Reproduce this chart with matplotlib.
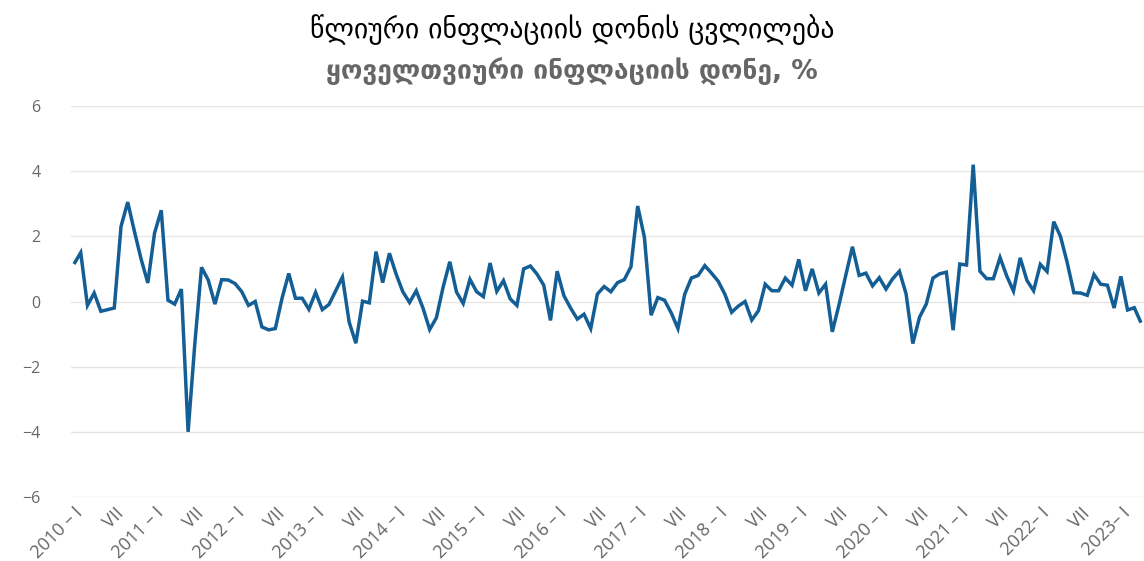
import matplotlib
matplotlib.use("Agg")
import matplotlib.pyplot as plt
import numpy as np

# Monthly CPI change, %, January 2010 – April 2023
values_2010 = [1.15, 1.5, -0.12, 0.26, -0.3, -0.25, -0.2, 2.3, 3.05, 2.15, 1.3, 0.57]
values_2011 = [2.1, 2.8, 0.04, -0.08, 0.38, -4.0, -1.3, 1.05, 0.66, -0.08, 0.67, 0.66]
values_2012 = [0.55, 0.3, -0.12, 0.0, -0.78, -0.87, -0.83, 0.1, 0.86, 0.1, 0.1, -0.24]
values_2013 = [0.28, -0.25, -0.09, 0.33, 0.75, -0.63, -1.28, 0.01, -0.04, 1.53, 0.58, 1.48]
values_2014 = [0.84, 0.3, -0.03, 0.33, -0.2, -0.86, -0.5, 0.44, 1.22, 0.29, -0.06, 0.68]
values_2015 = [0.3, 0.15, 1.18, 0.31, 0.64, 0.08, -0.12, 1.0, 1.09, 0.84, 0.5, -0.58]
values_2016 = [0.93, 0.18, -0.2, -0.54, -0.39, -0.83, 0.23, 0.46, 0.3, 0.58, 0.67, 1.07]
values_2017 = [2.93, 1.97, -0.42, 0.12, 0.04, -0.35, -0.83, 0.22, 0.72, 0.8, 1.1, 0.87]
values_2018 = [0.62, 0.22, -0.33, -0.14, 0.0, -0.57, -0.28, 0.53, 0.33, 0.33, 0.72, 0.5]
values_2019 = [1.29, 0.33, 1.0, 0.26, 0.53, -0.93, -0.1, 0.8, 1.68, 0.8, 0.87, 0.48]
values_2020 = [0.73, 0.38, 0.7, 0.93, 0.23, -1.29, -0.48, -0.08, 0.72, 0.85, 0.9, -0.88]
values_2021 = [1.15, 1.12, 4.2, 0.93, 0.7, 0.7, 1.35, 0.78, 0.32, 1.34, 0.65, 0.33]
values_2022 = [1.14, 0.92, 2.45, 2.0, 1.2, 0.27, 0.26, 0.19, 0.83, 0.53, 0.5, -0.2]
values_2023 = [0.77, -0.26, -0.19, -0.65]

years = list(range(2010, 2024))
monthly = (values_2010 + values_2011 + values_2012 + values_2013 + values_2014
           + values_2015 + values_2016 + values_2017 + values_2018 + values_2019
           + values_2020 + values_2021 + values_2022 + values_2023)

# Category labels: "YYYY – I" for January, "VII" for July
year_labels = [f"{y} – I" for y in years[:12]] + [f"{y}– I" for y in years[12:]]
july_label = "VII"

title = "წლიური ინფლაციის დონის ცვლილება"
subtitle = "ყოველთვიური ინფლაციის დონე, %"
y_ticks = [-6, -4, -2, 0, 2, 4, 6]

line_color = "#135f95"
grid_color = "#e6e6e6"
label_color = "#666666"

fig = plt.figure(figsize=(11.44, 5.61), dpi=100)
ax = fig.add_axes([71 / 1144, 64 / 561, 1 - 71 / 1144, 391 / 561])

x = np.arange(len(monthly))
ax.plot(x, monthly, color=line_color, linewidth=2.5, solid_joinstyle="miter",
        solid_capstyle="butt", zorder=3)

ax.set_ylim(-6, 6)
ax.set_xlim(-0.45, len(monthly) - 1 + 0.45)
ax.set_yticks(y_ticks)
ax.set_yticklabels([f"{t}".replace("-", "\u2212") for t in y_ticks])
ax.yaxis.grid(True, color=grid_color, linewidth=1.0)
ax.set_axisbelow(True)

tick_pos = []
tick_lab = []
for i, y in enumerate(years):
    jan = i * 12
    if jan < len(monthly):
        tick_pos.append(jan)
        tick_lab.append(year_labels[i])
    jul = jan + 6
    if jul < len(monthly):
        tick_pos.append(jul)
        tick_lab.append(july_label)
ax.set_xticks(tick_pos)
ax.set_xticklabels(tick_lab, rotation=45, ha="right", va="top",
                   rotation_mode="anchor")

for s in ax.spines.values():
    s.set_visible(False)
ax.tick_params(axis="both", length=0, colors=label_color)
ax.tick_params(axis="y", pad=22, labelsize=11.5)
ax.tick_params(axis="x", pad=5, labelsize=13)
for lab in ax.get_xticklabels() + ax.get_yticklabels():
    lab.set_fontfamily(["Open Sans", "DejaVu Sans"])

fig.text(0.5, 1 - 30 / 561, title, ha="center", va="center", fontsize=20,
         color="#000000", family=["DejaVu Sans"])
fig.text(0.5, 1 - 72 / 561, subtitle, ha="center", va="center", fontsize=19,
         color="#666666", fontweight="bold", family=["DejaVu Sans"])

fig.savefig("out.png", dpi=100, facecolor="white")
